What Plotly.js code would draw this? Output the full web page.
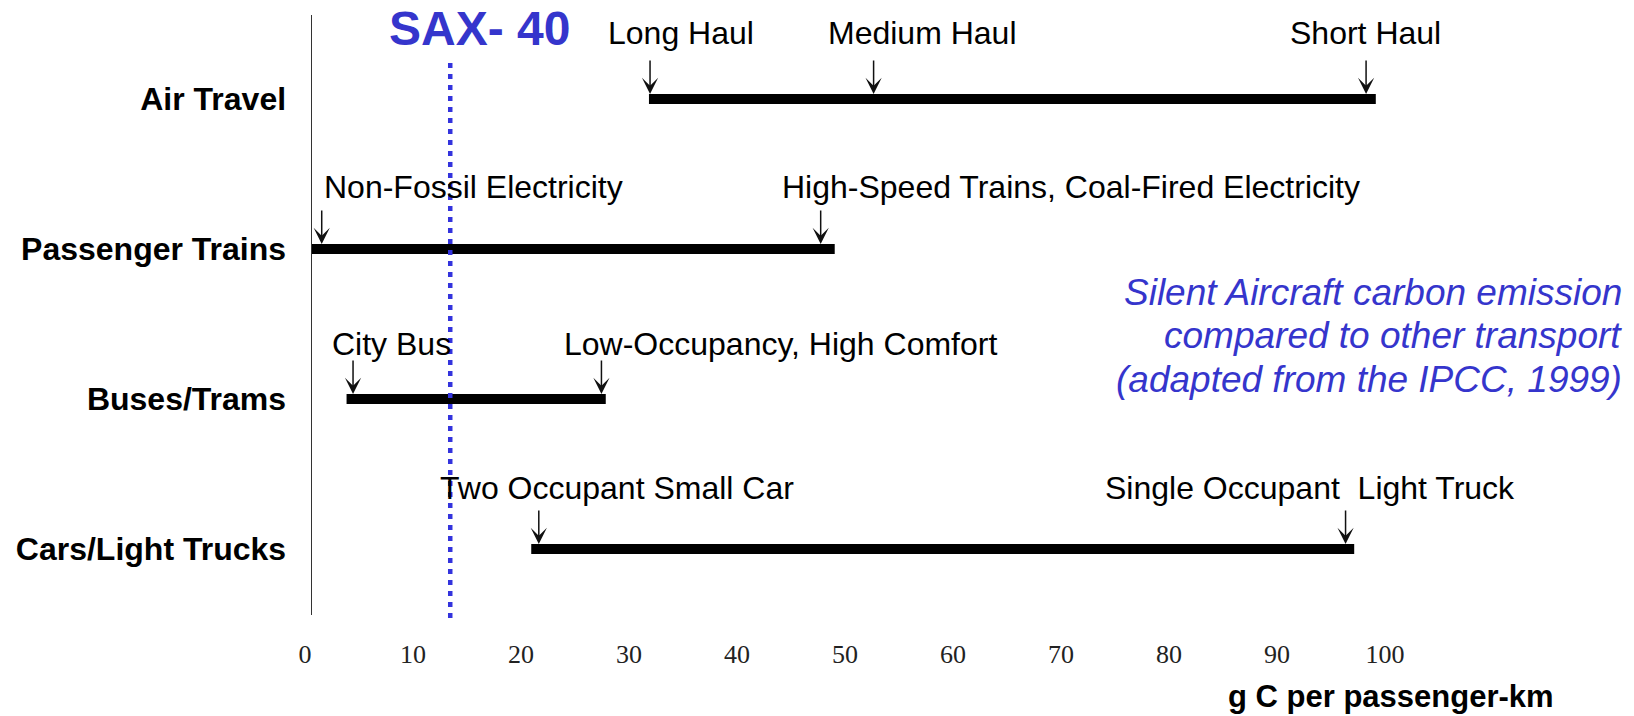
<!DOCTYPE html>
<html>
<head>
<meta charset="utf-8">
<script src="https://cdn.plot.ly/plotly-3.0.1.min.js"></script>
<style>html,body{margin:0;padding:0;background:#fff;}#chart{width:1634px;height:716px;}</style>
</head>
<body>
<div id="chart"></div>
<script>
// ---- data ----
const categories = ['Air Travel', 'Passenger Trains', 'Buses/Trams', 'Cars/Light Trucks'];
const rangeStart = [31.2, 0, 3.2, 20.3];
const rangeEnd   = [98.5, 48.4, 27.2, 96.5];

const markCategory = ['Air Travel', 'Air Travel', 'Air Travel',
  'Passenger Trains', 'Passenger Trains',
  'Buses/Trams', 'Buses/Trams',
  'Cars/Light Trucks', 'Cars/Light Trucks'];
const markValue = [31.3, 52.0, 97.6, 0.9, 47.1, 3.8, 26.8, 21.0, 95.7];
const markLabel = ['Long Haul', 'Medium Haul', 'Short Haul',
  'Non-Fossil Electricity', 'High-Speed Trains, Coal-Fired Electricity',
  'City Bus', 'Low-Occupancy, High Comfort',
  'Two Occupant Small Car', 'Single Occupant\u00a0 Light Truck'];

const saxValue = 12.8;
const saxLabel = 'SAX- 40';

const tickValues = [0, 10, 20, 30, 40, 50, 60, 70, 80, 90, 100];
const tickLabels = ['0', '10', '20', '30', '40', '50', '60', '70', '80', '90', '100'];

const xAxisTitle = 'g C per passenger-km';
const noteLines = ['Silent Aircraft carbon emission', 'compared to other transport', '(adapted from the IPCC, 1999)'];

// ---- layout / styling ----
const SANS = 'Liberation Sans, Arial, sans-serif';
const BLUE = '#3535CC';
const labelXShift = [-44, -48, -78, 0, -41, -23, -39, -101, -243];
const rowYShift = {'Air Travel': 66, 'Passenger Trains': 62, 'Buses/Trams': 55, 'Cars/Light Trucks': 61};

const trace = {
  type: 'bar',
  orientation: 'h',
  y: categories,
  base: rangeStart,
  x: rangeEnd.map((e, i) => e - rangeStart[i]),
  width: 0.067,
  marker: {color: '#000', line: {width: 0}},
  hoverinfo: 'skip',
  showlegend: false
};

const annotations = [];
markValue.forEach((v, i) => {
  annotations.push({
    x: v, y: markCategory[i], xref: 'x', yref: 'y',
    text: '', showarrow: true, ax: 0, ay: -40,
    arrowhead: 3, arrowsize: 1.8, arrowwidth: 1.5, arrowcolor: '#111', standoff: 5
  });
  annotations.push({
    x: v, y: markCategory[i], xref: 'x', yref: 'y',
    text: markLabel[i], showarrow: false, xanchor: 'left', yanchor: 'middle',
    xshift: labelXShift[i], yshift: rowYShift[markCategory[i]],
    font: {family: SANS, size: 32, color: '#000'}
  });
});

annotations.push({
  x: saxValue, xref: 'x', xshift: 29, y: 0.977, yref: 'paper',
  text: saxLabel, showarrow: false, xanchor: 'center', yanchor: 'middle',
  font: {family: SANS, size: 48, color: BLUE, weight: 'bold'}
});

const noteY = [0.538, 0.466, 0.393];
noteLines.forEach((t, i) => {
  annotations.push({
    x: 1.104, xref: 'paper', y: noteY[i], yref: 'paper',
    text: '<i>' + t + '</i>', showarrow: false, xanchor: 'right', yanchor: 'middle',
    font: {family: SANS, size: 37, color: BLUE}
  });
});

annotations.push({
  x: 0.908, xref: 'paper', y: -0.136, yref: 'paper',
  text: '<b>' + xAxisTitle + '</b>', showarrow: false, xanchor: 'center', yanchor: 'middle',
  font: {family: SANS, size: 31, color: '#000'}
});

const layout = {
  width: 1634, height: 716,
  margin: {l: 312, r: 134, t: 15, b: 101, pad: 0},
  paper_bgcolor: '#fff', plot_bgcolor: '#fff',
  showlegend: false,
  xaxis: {
    range: [0, 110], showline: false, showgrid: false, zeroline: false,
    tickvals: tickValues, ticktext: tickLabels, ticks: '',
    ticklabelstandoff: 21, ticklabelshift: -7,
    tickfont: {family: 'Liberation Serif, Times New Roman, serif', size: 26, color: '#222'},
    fixedrange: true
  },
  yaxis: {
    type: 'category', categoryorder: 'array', categoryarray: categories,
    range: [3.44, -0.56],
    showline: true, linecolor: '#333', linewidth: 1.5,
    showgrid: false, zeroline: false, ticks: '',
    ticklabelstandoff: 18,
    tickfont: {family: SANS, size: 32, color: '#000', weight: 'bold'},
    fixedrange: true
  },
  shapes: [{
    type: 'line', xref: 'x', yref: 'paper',
    x0: saxValue, x1: saxValue, y0: -0.005, y1: 0.93,
    line: {color: '#3333DD', width: 4.5, dash: '5px,6px'},
    layer: 'above'
  }],
  annotations: annotations
};

Plotly.newPlot('chart', [trace], layout, {displayModeBar: false, staticPlot: true});
</script>
</body>
</html>
